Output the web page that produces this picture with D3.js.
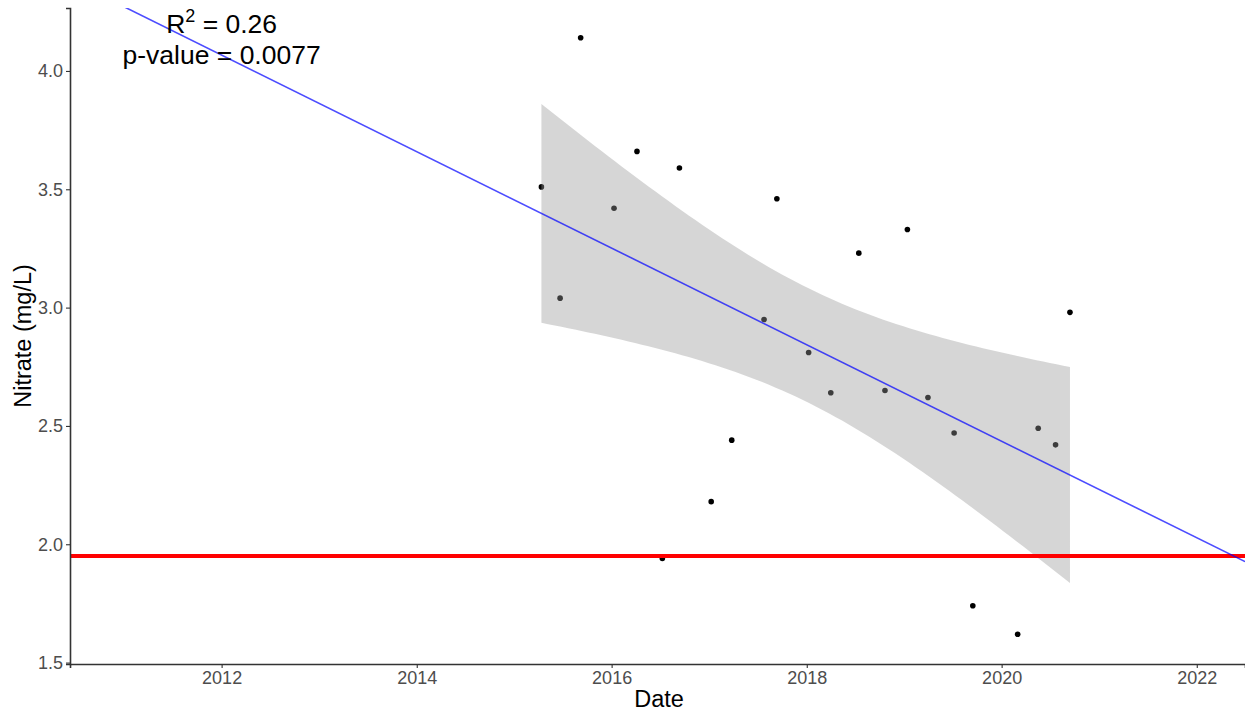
<!DOCTYPE html>
<html>
<head>
<meta charset="utf-8">
<script src="https://cdn.jsdelivr.net/npm/d3@7"></script>
<style>
  html, body { margin: 0; padding: 0; background: #fff; }
  svg { display: block; font-family: "Liberation Sans", Arial, Helvetica, sans-serif; }
</style>
</head>
<body>
<svg id="chart" width="1245" height="712"></svg>
<script>
// ---- data ----
const sampleDates = [
  "2015-04-13", "2015-06-22", "2015-09-07", "2016-01-10", "2016-04-05", "2016-07-09",
  "2016-09-11", "2017-01-08", "2017-03-26", "2017-07-25", "2017-09-11", "2018-01-08",
  "2018-04-01", "2018-07-15", "2018-10-21", "2019-01-13", "2019-03-31", "2019-07-07",
  "2019-09-15", "2020-03-01", "2020-05-17", "2020-07-21", "2020-09-13"
];
const nitrate = [
  3.51, 3.04, 4.14, 3.42, 3.66, 1.94,
  3.59, 2.18, 2.44, 2.95, 3.46, 2.81,
  2.64, 3.23, 2.65, 3.33, 2.62, 2.47,
  1.74, 1.62, 2.49, 2.42, 2.98
];
const thresholdValue = 1.95;
const yTicks = [1.5, 2.0, 2.5, 3.0, 3.5, 4.0];
const xTickYears = [2012, 2014, 2016, 2018, 2020, 2022];
const annotationLines = ["R", "p-value = 0.0077"];
const r2Text = " = 0.26";
const xDomainYears = [2010.444, 2022.495];
const yDomain = [1.494, 4.266];
const tCrit = 2.0796; // t(0.975, df = 21)

(function () {
const parse = d3.timeParse("%Y-%m-%d");
const dates = sampleDates.map(parse);
function yearToDate(yv) {
  const yr = Math.floor(yv);
  const start = new Date(yr, 0, 1), end = new Date(yr + 1, 0, 1);
  return new Date(start.getTime() + (yv - yr) * (end - start));
}
function dateToYear(d) {
  const yr = d.getFullYear();
  const start = new Date(yr, 0, 1), end = new Date(yr + 1, 0, 1);
  return yr + (d - start) / (end - start);
}
const data = dates.map((d, i) => ({ date: d, t: dateToYear(d), v: nitrate[i] }));

const svg = d3.select("#chart");
const mLeft = 70, mRight = 1245, mTop = 8, mBottom = 664;

const x = d3.scaleTime().domain(xDomainYears.map(yearToDate)).range([mLeft, mRight]);
const y = d3.scaleLinear().domain(yDomain).range([mBottom, mTop]);

svg.append("defs").append("clipPath").attr("id", "panel")
  .append("rect").attr("x", mLeft).attr("y", mTop).attr("width", mRight - mLeft).attr("height", mBottom - mTop);

// ---- regression (OLS) ----
const n = data.length;
const tbar = d3.mean(data, d => d.t), vbar = d3.mean(data, d => d.v);
const Sxx = d3.sum(data, d => (d.t - tbar) ** 2);
const Sxy = d3.sum(data, d => (d.t - tbar) * (d.v - vbar));
const slope = Sxy / Sxx, intercept = vbar - slope * tbar;
const sse = d3.sum(data, d => (d.v - (intercept + slope * d.t)) ** 2);
const s = Math.sqrt(sse / (n - 2));
const tMin = d3.min(data, d => d.t), tMax = d3.max(data, d => d.t);
const band = d3.range(80).map(i => {
  const t = tMin + (tMax - tMin) * i / 79;
  const fit = intercept + slope * t;
  const se = s * Math.sqrt(1 / n + (t - tbar) ** 2 / Sxx);
  return { t, lo: fit - tCrit * se, hi: fit + tCrit * se };
});

const g = svg.append("g").attr("clip-path", "url(#panel)");

g.selectAll("circle.pt").data(data).enter().append("circle")
  .attr("class", "pt")
  .attr("cx", d => x(d.date)).attr("cy", d => y(d.v))
  .attr("r", 2.8).attr("fill", "#000");

g.append("path").datum(band)
  .attr("d", d3.area().x(d => x(yearToDate(d.t))).y0(d => y(d.lo)).y1(d => y(d.hi)))
  .attr("fill", "#999999").attr("fill-opacity", 0.4);

g.append("line")
  .attr("x1", mLeft).attr("x2", mRight)
  .attr("y1", y(thresholdValue)).attr("y2", y(thresholdValue))
  .attr("stroke", "#ff0000").attr("stroke-width", 4);

g.append("line")
  .attr("x1", x(yearToDate(xDomainYears[0]))).attr("y1", y(intercept + slope * xDomainYears[0]))
  .attr("x2", x(yearToDate(xDomainYears[1]))).attr("y2", y(intercept + slope * xDomainYears[1]))
  .attr("stroke", "#0000ff").attr("stroke-opacity", 0.7).attr("stroke-width", 1.6);

// ---- axes ----
const xAxis = d3.axisBottom(x)
  .tickValues(xTickYears.map(yr => new Date(yr, 0, 1)))
  .tickFormat(d3.timeFormat("%Y")).tickSize(4).tickPadding(3);
const gx = svg.append("g").attr("transform", `translate(0,${mBottom})`).call(xAxis);
gx.select(".domain").attr("stroke", "#333").attr("stroke-width", 1.6);
gx.selectAll(".tick line").attr("stroke", "#333").attr("stroke-width", 1.1);
gx.selectAll(".tick text").attr("fill", "#4d4d4d").attr("font-size", 18)
  .attr("font-family", "Liberation Sans, Arial, sans-serif");

const yAxis = d3.axisLeft(y).tickValues(yTicks).tickFormat(d3.format(".1f")).tickSize(4).tickPadding(3);
const gy = svg.append("g").attr("transform", `translate(${mLeft},0)`).call(yAxis);
gy.select(".domain").attr("stroke", "#333").attr("stroke-width", 1.6);
gy.selectAll(".tick line").attr("stroke", "#333").attr("stroke-width", 1.1);
gy.selectAll(".tick text").attr("fill", "#4d4d4d").attr("font-size", 18)
  .attr("font-family", "Liberation Sans, Arial, sans-serif");

svg.append("text").attr("x", 659).attr("y", 707)
  .attr("text-anchor", "middle").attr("font-size", 23.5).attr("fill", "#000").text("Date");
svg.append("text").attr("transform", `translate(31,${(mTop + mBottom) / 2}) rotate(-90)`)
  .attr("text-anchor", "middle").attr("font-size", 23.5).attr("fill", "#000").text("Nitrate (mg/L)");

const ax = x(new Date(2012, 0, 1));
const t1 = svg.append("text").attr("x", ax).attr("y", 33).attr("text-anchor", "middle")
  .attr("font-size", 26.5).attr("fill", "#000");
t1.append("tspan").text(annotationLines[0]);
t1.append("tspan").attr("dy", -11).attr("font-size", 18).text("2");
t1.append("tspan").attr("dy", 11).text(r2Text);
svg.append("text").attr("x", ax).attr("y", 64).attr("text-anchor", "middle")
  .attr("font-size", 26.5).attr("fill", "#000").text(annotationLines[1]);
})();
</script>
</body>
</html>
